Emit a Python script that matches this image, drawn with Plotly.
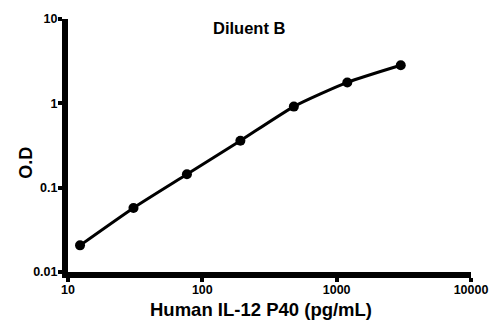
import plotly.graph_objects as go

concentration = [12.29, 30.72, 76.8, 192, 480, 1200, 3000]
od = [0.0207, 0.0575, 0.144, 0.36, 0.915, 1.77, 2.83]

x_ticks = [10, 100, 1000, 10000]
x_ticktext = ["10", "100", "1000", "10000"]
y_ticks = [0.01, 0.1, 1, 10]
y_ticktext = ["0.01", "0.1", "1", "10"]

title_text = "Diluent B"
x_title = "Human IL-12 P40 (pg/mL)"
y_title = "O.D"

font_family = "Liberation Sans, Arial, sans-serif"

fig = go.Figure()
fig.add_trace(go.Scatter(
    x=concentration, y=od, mode="lines+markers",
    line=dict(color="black", width=3, shape="spline", smoothing=0.6),
    marker=dict(color="black", size=10),
    showlegend=False,
    cliponaxis=False,
))

fig.update_xaxes(type="log", range=[1, 4], tickvals=x_ticks,
                 ticktext=["<b>" + t + "</b>" for t in x_ticktext],
                 showgrid=False, zeroline=False, showline=True,
                 linecolor="black", linewidth=6,
                 ticks="outside", ticklen=4, tickwidth=4, tickcolor="black",
                 ticklabelstandoff=-3,
                 tickfont=dict(family=font_family, size=12.5, color="black"))
fig.update_yaxes(type="log", range=[-2, 1], tickvals=y_ticks,
                 ticktext=["<b>" + t + "</b>" for t in y_ticktext],
                 showgrid=False, zeroline=False, showline=True,
                 linecolor="black", linewidth=6,
                 ticks="outside", ticklen=4, tickwidth=4, tickcolor="black",
                 ticklabelstandoff=-2,
                 tickfont=dict(family=font_family, size=12.5, color="black"))

fig.update_layout(
    width=500, height=322,
    margin=dict(l=68, r=27, t=13, b=50),
    paper_bgcolor="white", plot_bgcolor="white",
    font=dict(family=font_family, color="black"),
    annotations=[
        dict(text="<b>" + title_text + "</b>", xref="paper", yref="paper",
             x=(250 - 68) / 405, y=(322 - 50 - 22.7) / 259, xanchor="center", yanchor="middle",
             showarrow=False, font=dict(family=font_family, size=16.5, color="black")),
        dict(text="<b>" + x_title + "</b>", xref="paper", yref="paper",
             x=(262 - 68) / 405, y=-(310.5 - 272) / 259, xanchor="center", yanchor="middle",
             showarrow=False, font=dict(family=font_family, size=18.5, color="black")),
        dict(text="<b>" + y_title + "</b>", xref="paper", yref="paper",
             x=-(68 - 25) / 405, y=(272 - 160) / 259, xanchor="center", yanchor="middle",
             textangle=-90, showarrow=False, font=dict(family=font_family, size=18, color="black")),
    ],
)

fig.write_html("out.html")
